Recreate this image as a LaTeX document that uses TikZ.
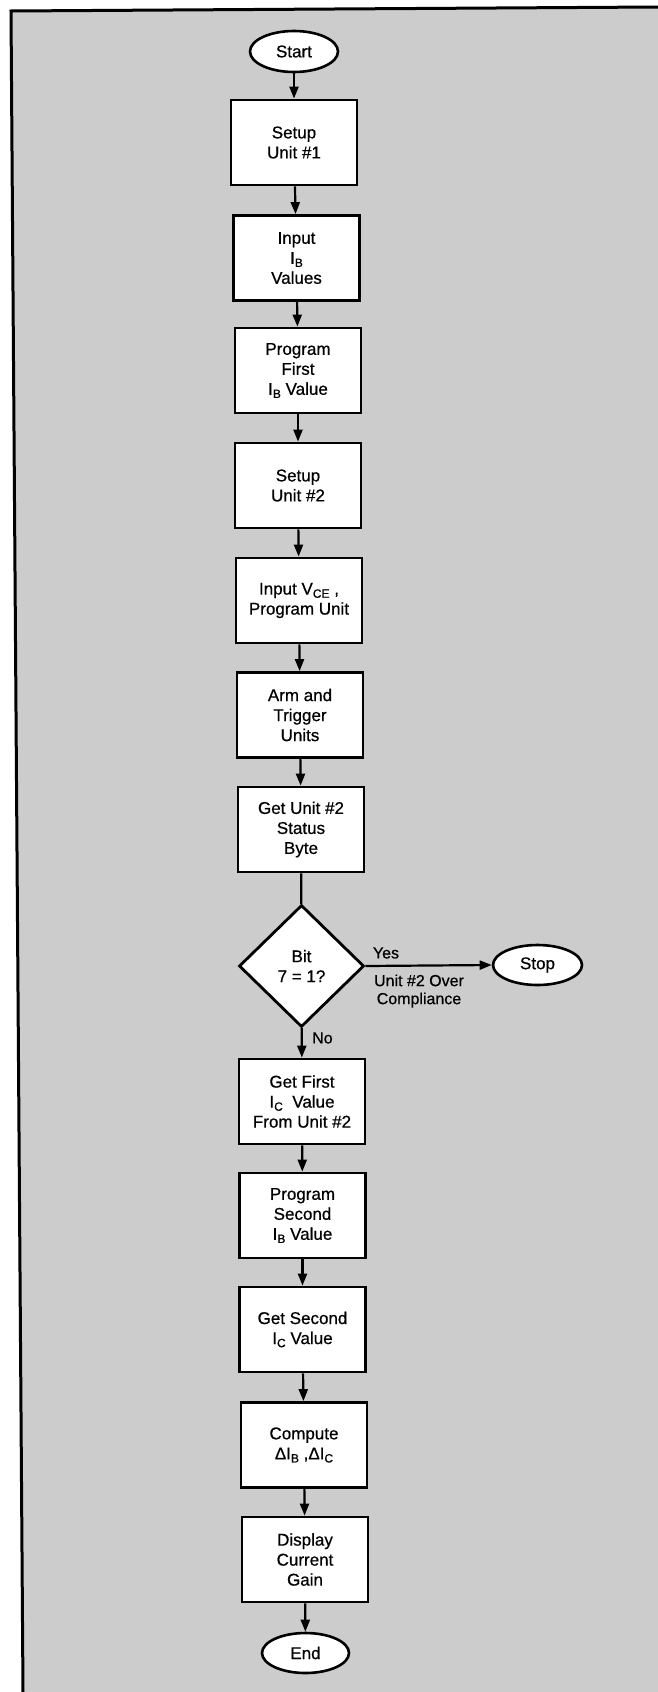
\documentclass[tikz,border=0pt]{standalone}
\usepackage{fontspec}
\setmainfont{Liberation Sans}[FakeBold=0.6]
\usetikzlibrary{shapes.geometric,arrows.meta}
\newcommand\sbs[1]{\raisebox{-0.35ex}{\fontsize{12}{12}\selectfont #1}}
\tikzset{
  boxnode/.style={draw, line width=2.8pt, fill=white, minimum width=126pt, minimum height=85pt, inner sep=0pt, align=center, font=\fontsize{17}{20}\selectfont},
  termnode/.style={draw, ellipse, line width=2.6pt, fill=white, inner sep=0pt, font=\fontsize{17}{20}\selectfont},
  decnode/.style={draw, diamond, aspect=1, line width=2.8pt, fill=white, minimum width=125pt, minimum height=122pt, inner sep=0pt, align=center, font=\fontsize{17}{20}\selectfont},
  arr/.style={line width=2.2pt, -{Triangle[length=12pt,width=9pt]}},
  plain/.style={line width=2.2pt},
  lbl/.style={font=\fontsize{16}{18}\selectfont, inner sep=0pt, align=center},
  bg/.style={fill=black!20}
}
\begin{document}
\begin{tikzpicture}[x=1pt,y=-1pt]
\useasboundingbox (0,0) rectangle (658,1692);
\fill[bg] (11,11) -- (658,7) -- (658,1692) -- (23,1692) -- cycle;
\draw[line width=3pt] (658,7) -- (11,11) -- (23,1692);

\node[termnode, minimum width=88pt, minimum height=41pt] (start) at (294,51.5) {Start};
\node[boxnode] (b1) at (294,142.5) {Setup\\Unit \#1};
\node[boxnode] (b2) at (296.5,258) {Input\\I\sbs{B}\\Values};
\node[boxnode] (b3) at (298,370.5) {Program\\First\\I\sbs{B} Value};
\node[boxnode] (b4) at (298,485.5) {Setup\\Unit \#2};
\node[boxnode] (b5) at (299,600.5) {Input V\sbs{CE} ,\\Program Unit};
\node[boxnode] (b6) at (300,715) {Arm and\\Trigger\\Units};
\node[boxnode] (b7) at (301,829.5) {Get Unit \#2\\Status\\Byte};
\node[decnode] (dia) at (301.5,966) {Bit\\7 = 1?};
\node[termnode, minimum width=89pt, minimum height=40pt] (stop) at (537.5,965) {Stop};
\node[boxnode] (b8) at (302,1101.5) {Get First\\I\sbs{C}\ \ Value\\From Unit \#2};
\node[boxnode] (b9) at (302.5,1215.5) {Program\\Second\\I\sbs{B} Value};
\node[boxnode] (b10) at (302.5,1329.5) {Get Second\\I\sbs{C} Value};
\node[boxnode] (b11) at (304,1445) {Compute\\ΔI\sbs{B} ,ΔI\sbs{C}};
\node[boxnode] (b12) at (305,1559.5) {Display\\Current\\Gain};
\node[termnode, minimum width=87pt, minimum height=40pt] (end) at (305.5,1653) {End};

\draw[arr] (start) -- (b1);
\draw[arr] (b1) -- (b2);
\draw[arr] (b2) -- (b3);
\draw[arr] (b3) -- (b4);
\draw[arr] (b4) -- (b5);
\draw[arr] (b5) -- (b6);
\draw[arr] (b6) -- (b7);
\draw[plain] (b7) -- (dia);
\draw[arr] (dia.east) -- (stop.west);
\draw[arr] (dia) -- (b8);
\draw[arr] (b8) -- (b9);
\draw[arr] (b9) -- (b10);
\draw[arr] (b10) -- (b11);
\draw[arr] (b11) -- (b12);
\draw[arr] (b12) -- (end);

\node[lbl] (yes) at (386,953) {Yes};
\node[lbl] (comp) at (419,991) {Unit \#2 Over\\Compliance};
\node[lbl, anchor=west] (no) at (312,1038) {No};
\end{tikzpicture}
\end{document}
